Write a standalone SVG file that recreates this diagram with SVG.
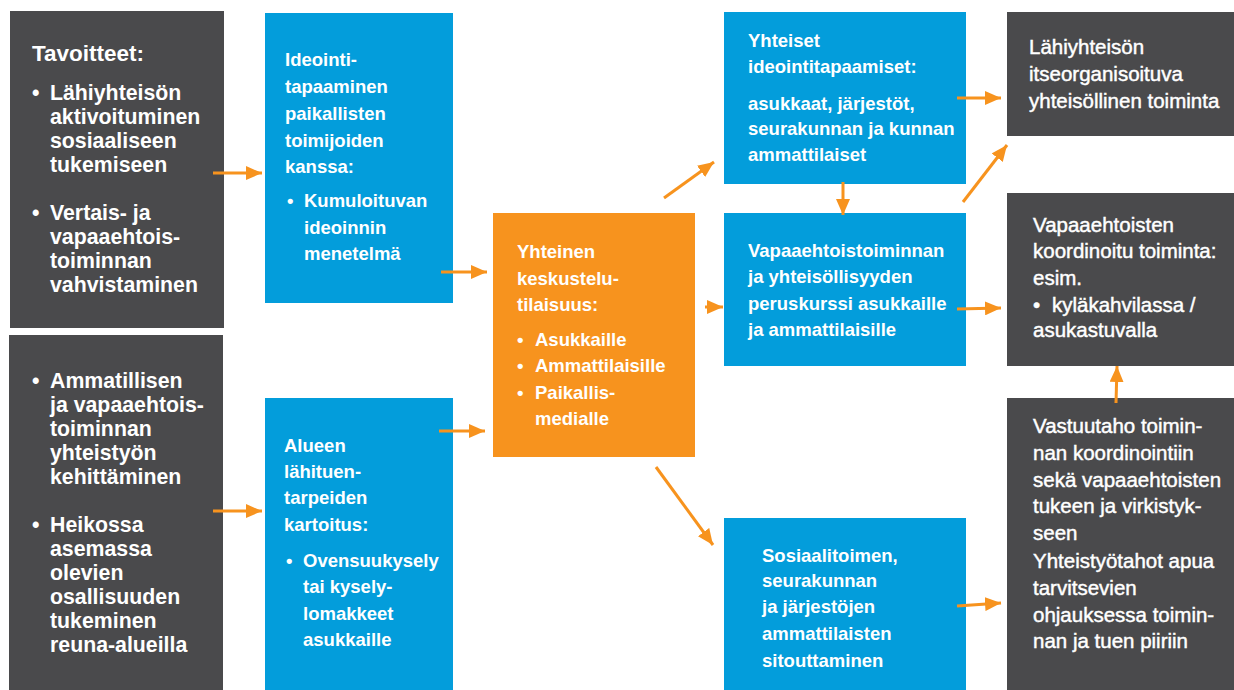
<svg xmlns="http://www.w3.org/2000/svg" width="1234" height="690" viewBox="0 0 1234 690">
<defs>
<style>
.dark{fill:#4a4a4c}
.blue{fill:#039ddb}
.orange{fill:#f7931e}
text{fill:#ffffff;font-family:"Liberation Sans",Arial,sans-serif}
.l{font-size:21.3px;font-weight:bold}
.h{font-size:22.5px;font-weight:bold}
.b{font-size:18.5px;font-weight:bold}
.r{font-size:20.5px;font-weight:normal;stroke:#ffffff;stroke-width:0.45px}
.c{stroke:#f7931e;stroke-width:3;fill:none;marker-end:url(#ah)}
</style>
<marker id="ah" markerUnits="userSpaceOnUse" markerWidth="18" markerHeight="14" refX="16" refY="7" orient="auto">
<path d="M0,0 L16,7 L0,14 Z" fill="#f7931e"/>
</marker>
</defs>
<rect width="1234" height="690" fill="#ffffff"/>

<g id="tavoitteet">
<rect class="dark" x="10" y="11" width="214" height="317"/>
<text class="h" x="32" y="61">Tavoitteet:</text>
<text class="l" x="32" y="100">•</text>
<text class="l" x="50" y="100">Lähiyhteisön</text>
<text class="l" x="50" y="124">aktivoituminen</text>
<text class="l" x="50" y="148">sosiaaliseen</text>
<text class="l" x="50" y="172">tukemiseen</text>
<text class="l" x="32" y="220">•</text>
<text class="l" x="50" y="220">Vertais- ja</text>
<text class="l" x="50" y="244">vapaaehtois-</text>
<text class="l" x="50" y="268">toiminnan</text>
<text class="l" x="50" y="292">vahvistaminen</text>
</g>

<g id="tavoitteet2">
<rect class="dark" x="9" y="335" width="214" height="355"/>
<text class="l" x="32" y="388">•</text>
<text class="l" x="50" y="388">Ammatillisen</text>
<text class="l" x="50" y="412">ja vapaaehtois-</text>
<text class="l" x="50" y="436">toiminnan</text>
<text class="l" x="50" y="460">yhteistyön</text>
<text class="l" x="50" y="484">kehittäminen</text>
<text class="l" x="32" y="532">•</text>
<text class="l" x="50" y="532">Heikossa</text>
<text class="l" x="50" y="556">asemassa</text>
<text class="l" x="50" y="580">olevien</text>
<text class="l" x="50" y="604">osallisuuden</text>
<text class="l" x="50" y="628">tukeminen</text>
<text class="l" x="50" y="652">reuna-alueilla</text>
</g>

<g id="ideointi">
<rect class="blue" x="265" y="13" width="188" height="290"/>
<text class="b" x="285" y="66">Ideointi-</text>
<text class="b" x="285" y="93">tapaaminen</text>
<text class="b" x="285" y="120">paikallisten</text>
<text class="b" x="285" y="147">toimijoiden</text>
<text class="b" x="285" y="173">kanssa:</text>
<text class="b" x="287" y="207">•</text>
<text class="b" x="304" y="207">Kumuloituvan</text>
<text class="b" x="304" y="234">ideoinnin</text>
<text class="b" x="304" y="260">menetelmä</text>
</g>

<g id="kartoitus">
<rect class="blue" x="265" y="398" width="188" height="292"/>
<text class="b" x="284" y="452">Alueen</text>
<text class="b" x="284" y="478">lähituen-</text>
<text class="b" x="284" y="504">tarpeiden</text>
<text class="b" x="284" y="531">kartoitus:</text>
<text class="b" x="286" y="567">•</text>
<text class="b" x="303" y="567">Ovensuukysely</text>
<text class="b" x="303" y="593">tai kysely-</text>
<text class="b" x="303" y="620">lomakkeet</text>
<text class="b" x="303" y="646">asukkaille</text>
</g>

<g id="keskustelu">
<rect class="orange" x="493" y="213" width="202" height="244"/>
<text class="b" x="517" y="258">Yhteinen</text>
<text class="b" x="517" y="285">keskustelu-</text>
<text class="b" x="517" y="311">tilaisuus:</text>
<text class="b" x="517" y="346">•</text>
<text class="b" x="535" y="346">Asukkaille</text>
<text class="b" x="517" y="372">•</text>
<text class="b" x="535" y="372">Ammattilaisille</text>
<text class="b" x="517" y="399">•</text>
<text class="b" x="535" y="399">Paikallis-</text>
<text class="b" x="535" y="425">medialle</text>
</g>

<g id="yhteiset">
<rect class="blue" x="724" y="12" width="242" height="172"/>
<text class="b" x="748" y="47">Yhteiset</text>
<text class="b" x="748" y="73">ideointitapaamiset:</text>
<text class="b" x="748" y="110">asukkaat, järjestöt,</text>
<text class="b" x="748" y="135">seurakunnan ja kunnan</text>
<text class="b" x="748" y="161">ammattilaiset</text>
</g>

<g id="peruskurssi">
<rect class="blue" x="724" y="213" width="242" height="153"/>
<text class="b" x="748" y="257">Vapaaehtoistoiminnan</text>
<text class="b" x="748" y="283">ja yhteisöllisyyden</text>
<text class="b" x="748" y="310">peruskurssi asukkaille</text>
<text class="b" x="748" y="336">ja ammattilaisille</text>
</g>

<g id="sitouttaminen">
<rect class="blue" x="724" y="518" width="242" height="172"/>
<text class="b" x="762" y="562">Sosiaalitoimen,</text>
<text class="b" x="762" y="587">seurakunnan</text>
<text class="b" x="762" y="613">ja järjestöjen</text>
<text class="b" x="762" y="640">ammattilaisten</text>
<text class="b" x="762" y="667">sitouttaminen</text>
</g>

<g id="itseorganisoituva">
<rect class="dark" x="1007" y="12" width="227" height="124"/>
<text class="r" x="1029" y="54">Lähiyhteisön</text>
<text class="r" x="1029" y="81">itseorganisoituva</text>
<text class="r" x="1029" y="108">yhteisöllinen toiminta</text>
</g>

<g id="koordinoitu">
<rect class="dark" x="1007" y="193" width="227" height="173"/>
<text class="r" x="1033" y="232">Vapaaehtoisten</text>
<text class="r" x="1033" y="258">koordinoitu toiminta:</text>
<text class="r" x="1033" y="285">esim.</text>
<text class="r" x="1033" y="312">•</text>
<text class="r" x="1052" y="312">kyläkahvilassa /</text>
<text class="r" x="1033" y="337">asukastuvalla</text>
</g>

<g id="vastuutaho">
<rect class="dark" x="1007" y="398" width="227" height="292"/>
<text class="r" x="1033" y="433">Vastuutaho toimin-</text>
<text class="r" x="1033" y="460">nan koordinointiin</text>
<text class="r" x="1033" y="487">sekä vapaaehtoisten</text>
<text class="r" x="1033" y="513">tukeen ja virkistyk-</text>
<text class="r" x="1033" y="540">seen</text>
<text class="r" x="1033" y="568">Yhteistyötahot apua</text>
<text class="r" x="1033" y="595">tarvitsevien</text>
<text class="r" x="1033" y="622">ohjauksessa toimin-</text>
<text class="r" x="1033" y="648">nan ja tuen piiriin</text>
</g>

<g id="connectors">
<line class="c" x1="213" y1="173" x2="262" y2="173"/>
<line class="c" x1="213" y1="511" x2="262" y2="511"/>
<line class="c" x1="441" y1="272" x2="487" y2="272"/>
<line class="c" x1="439" y1="431" x2="485" y2="431"/>
<line class="c" x1="664" y1="198" x2="714" y2="162"/>
<line class="c" x1="705" y1="307" x2="723" y2="307"/>
<line class="c" x1="843" y1="182" x2="843" y2="215"/>
<line class="c" x1="957" y1="98" x2="1001" y2="98"/>
<line class="c" x1="963" y1="202" x2="1007" y2="145"/>
<line class="c" x1="957" y1="309" x2="1001" y2="308"/>
<line class="c" x1="656" y1="467" x2="713" y2="545"/>
<line class="c" x1="957" y1="606" x2="1001" y2="603"/>
<line class="c" x1="1116" y1="403" x2="1117" y2="366"/>
</g>
</svg>
